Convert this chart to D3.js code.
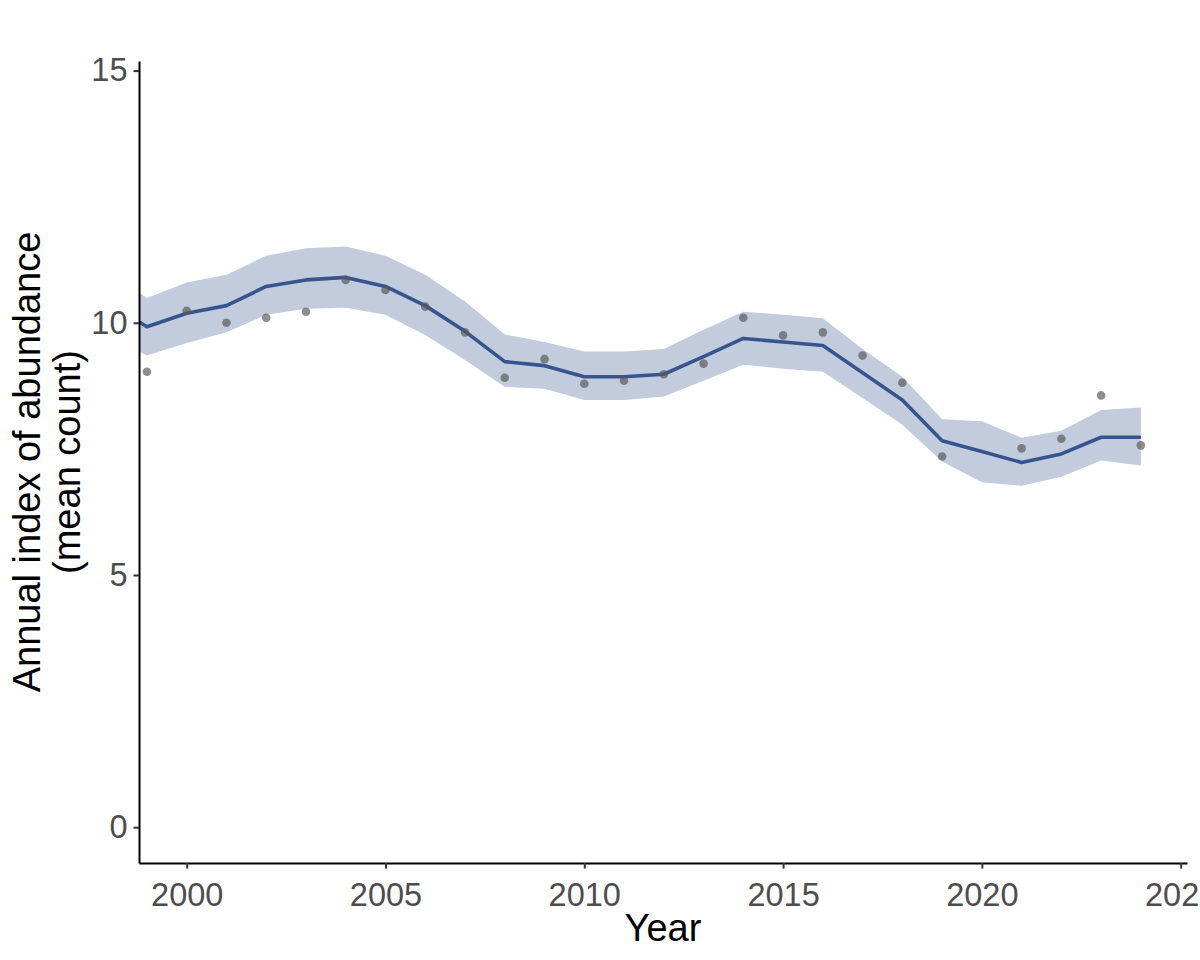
<!DOCTYPE html>
<html>
<head>
<meta charset="utf-8">
<script src="https://cdn.jsdelivr.net/npm/d3@7"></script>
<style>
  body { margin: 0; background: #fff; }
  svg { display: block; overflow: hidden; }
</style>
</head>
<body>
<div id="chart"></div>
<script>
// Smoothed trend (1998 sits just outside the panel and gets clipped)
var fitYears = [1998, 1999, 2000, 2001, 2002, 2003, 2004, 2005, 2006, 2007, 2008, 2009, 2010,
  2011, 2012, 2013, 2014, 2015, 2016, 2017, 2018, 2019, 2020, 2021, 2022, 2023, 2024];
var fitted = [10.42, 9.92, 10.19, 10.34, 10.72, 10.85, 10.90, 10.72, 10.34, 9.83, 9.23, 9.15, 8.93,
  8.93, 8.98, 9.33, 9.69, 9.62, 9.55, 9.01, 8.47, 7.66, 7.45, 7.23, 7.40, 7.73, 7.73];
var lower = [9.75, 9.35, 9.60, 9.81, 10.16, 10.28, 10.30, 10.16, 9.76, 9.26, 8.73, 8.69, 8.47,
  8.47, 8.54, 8.85, 9.17, 9.09, 9.03, 8.51, 7.98, 7.25, 6.84, 6.77, 6.95, 7.27, 7.17];
var upper = [11.04, 10.49, 10.80, 10.95, 11.33, 11.48, 11.51, 11.33, 10.95, 10.42, 9.77, 9.62, 9.43,
  9.43, 9.48, 9.86, 10.22, 10.16, 10.09, 9.48, 8.93, 8.09, 8.05, 7.72, 7.86, 8.27, 8.32];

// Observed annual means (no survey in 2020)
var obsYears = [1999, 2000, 2001, 2002, 2003, 2004, 2005, 2006, 2007, 2008, 2009, 2010, 2011,
  2012, 2013, 2014, 2015, 2016, 2017, 2018, 2019, 2021, 2022, 2023, 2024];
var obsCounts = [9.03, 10.24, 10.00, 10.10, 10.22, 10.85, 10.65, 10.32, 9.81, 8.91, 9.28, 8.79, 8.85,
  8.98, 9.19, 10.10, 9.75, 9.81, 9.35, 8.81, 7.35, 7.51, 7.70, 8.56, 7.57];

var xTicks = [2000, 2005, 2010, 2015, 2020, 2025];
var yTicks = [0, 5, 10, 15];

// Dimensions
var W = 1200, H = 960;
var margin = { top: 61, right: 13, bottom: 97, left: 139 };
var width = W - margin.left - margin.right;
var height = H - margin.top - margin.bottom;

var lineColor = "#36558f";
var font = "Arial, 'Liberation Sans', sans-serif";

var svg = d3.select("#chart")
  .append("svg")
  .attr("width", W)
  .attr("height", H);

var g = svg.append("g")
  .attr("transform", "translate(" + margin.left + "," + margin.top + ")");

// Scales
var x = d3.scaleLinear().domain([1998.8, 2025.16]).range([0, width]);
var y = d3.scaleLinear().domain([-0.71, 15.19]).range([height, 0]);

// Clip the panel like ggplot does
svg.append("defs").append("clipPath")
  .attr("id", "panel")
  .append("rect")
  .attr("width", width)
  .attr("height", height);

var fitData = fitYears.map(function (d, i) {
  return { year: d, fit: fitted[i], lo: lower[i], hi: upper[i] };
});
var obsData = obsYears.map(function (d, i) { return { year: d, value: obsCounts[i] }; });

var panel = g.append("g").attr("clip-path", "url(#panel)");

// Confidence ribbon
panel.append("path")
  .datum(fitData)
  .attr("fill", lineColor)
  .attr("fill-opacity", 0.3)
  .attr("d", d3.area()
    .x(function (d) { return x(d.year); })
    .y0(function (d) { return y(d.lo); })
    .y1(function (d) { return y(d.hi); }));

// Trend line
panel.append("path")
  .datum(fitData)
  .attr("fill", "none")
  .attr("stroke", lineColor)
  .attr("stroke-width", 3.6)
  .attr("stroke-linejoin", "round")
  .attr("d", d3.line()
    .x(function (d) { return x(d.year); })
    .y(function (d) { return y(d.fit); }));

// Observed points
panel.selectAll(".pt")
  .data(obsData)
  .enter()
  .append("circle")
  .attr("class", "pt")
  .attr("cx", function (d) { return x(d.year); })
  .attr("cy", function (d) { return y(d.value); })
  .attr("r", 4.3)
  .attr("fill", "#595959")
  .attr("fill-opacity", 0.68);

// X axis
var xAxis = g.append("g")
  .attr("transform", "translate(0," + height + ")")
  .call(d3.axisBottom(x).tickValues(xTicks).tickFormat(d3.format("d"))
    .tickSize(5.5).tickSizeOuter(0).tickPadding(7));

// Y axis
var yAxis = g.append("g")
  .call(d3.axisLeft(y).tickValues(yTicks).tickSize(5.5).tickSizeOuter(0).tickPadding(6));

[xAxis, yAxis].forEach(function (ax) {
  ax.select(".domain").attr("stroke", "#000").attr("stroke-width", 2);
  ax.selectAll(".tick line").attr("stroke", "#333").attr("stroke-width", 2);
  ax.selectAll(".tick text")
    .attr("fill", "#4d4d4d")
    .style("font-family", font)
    .style("font-size", "32.5px");
});
xAxis.selectAll(".tick text").attr("dy", "0.93em");

// X-axis label
svg.append("text")
  .attr("x", margin.left + width / 2)
  .attr("y", 941)
  .attr("text-anchor", "middle")
  .style("font-family", font)
  .style("font-size", "38px")
  .attr("fill", "#000")
  .text("Year");

// Y-axis label (two lines)
var yTitle = svg.append("text")
  .attr("transform", "translate(0," + (margin.top + height / 2) + ") rotate(-90)")
  .attr("text-anchor", "middle")
  .style("font-family", font)
  .style("font-size", "38px")
  .attr("fill", "#000");
yTitle.append("tspan").attr("x", 0).attr("y", 40).text("Annual index of abundance");
yTitle.append("tspan").attr("x", 0).attr("y", 80).text("(mean count)");
</script>
</body>
</html>
